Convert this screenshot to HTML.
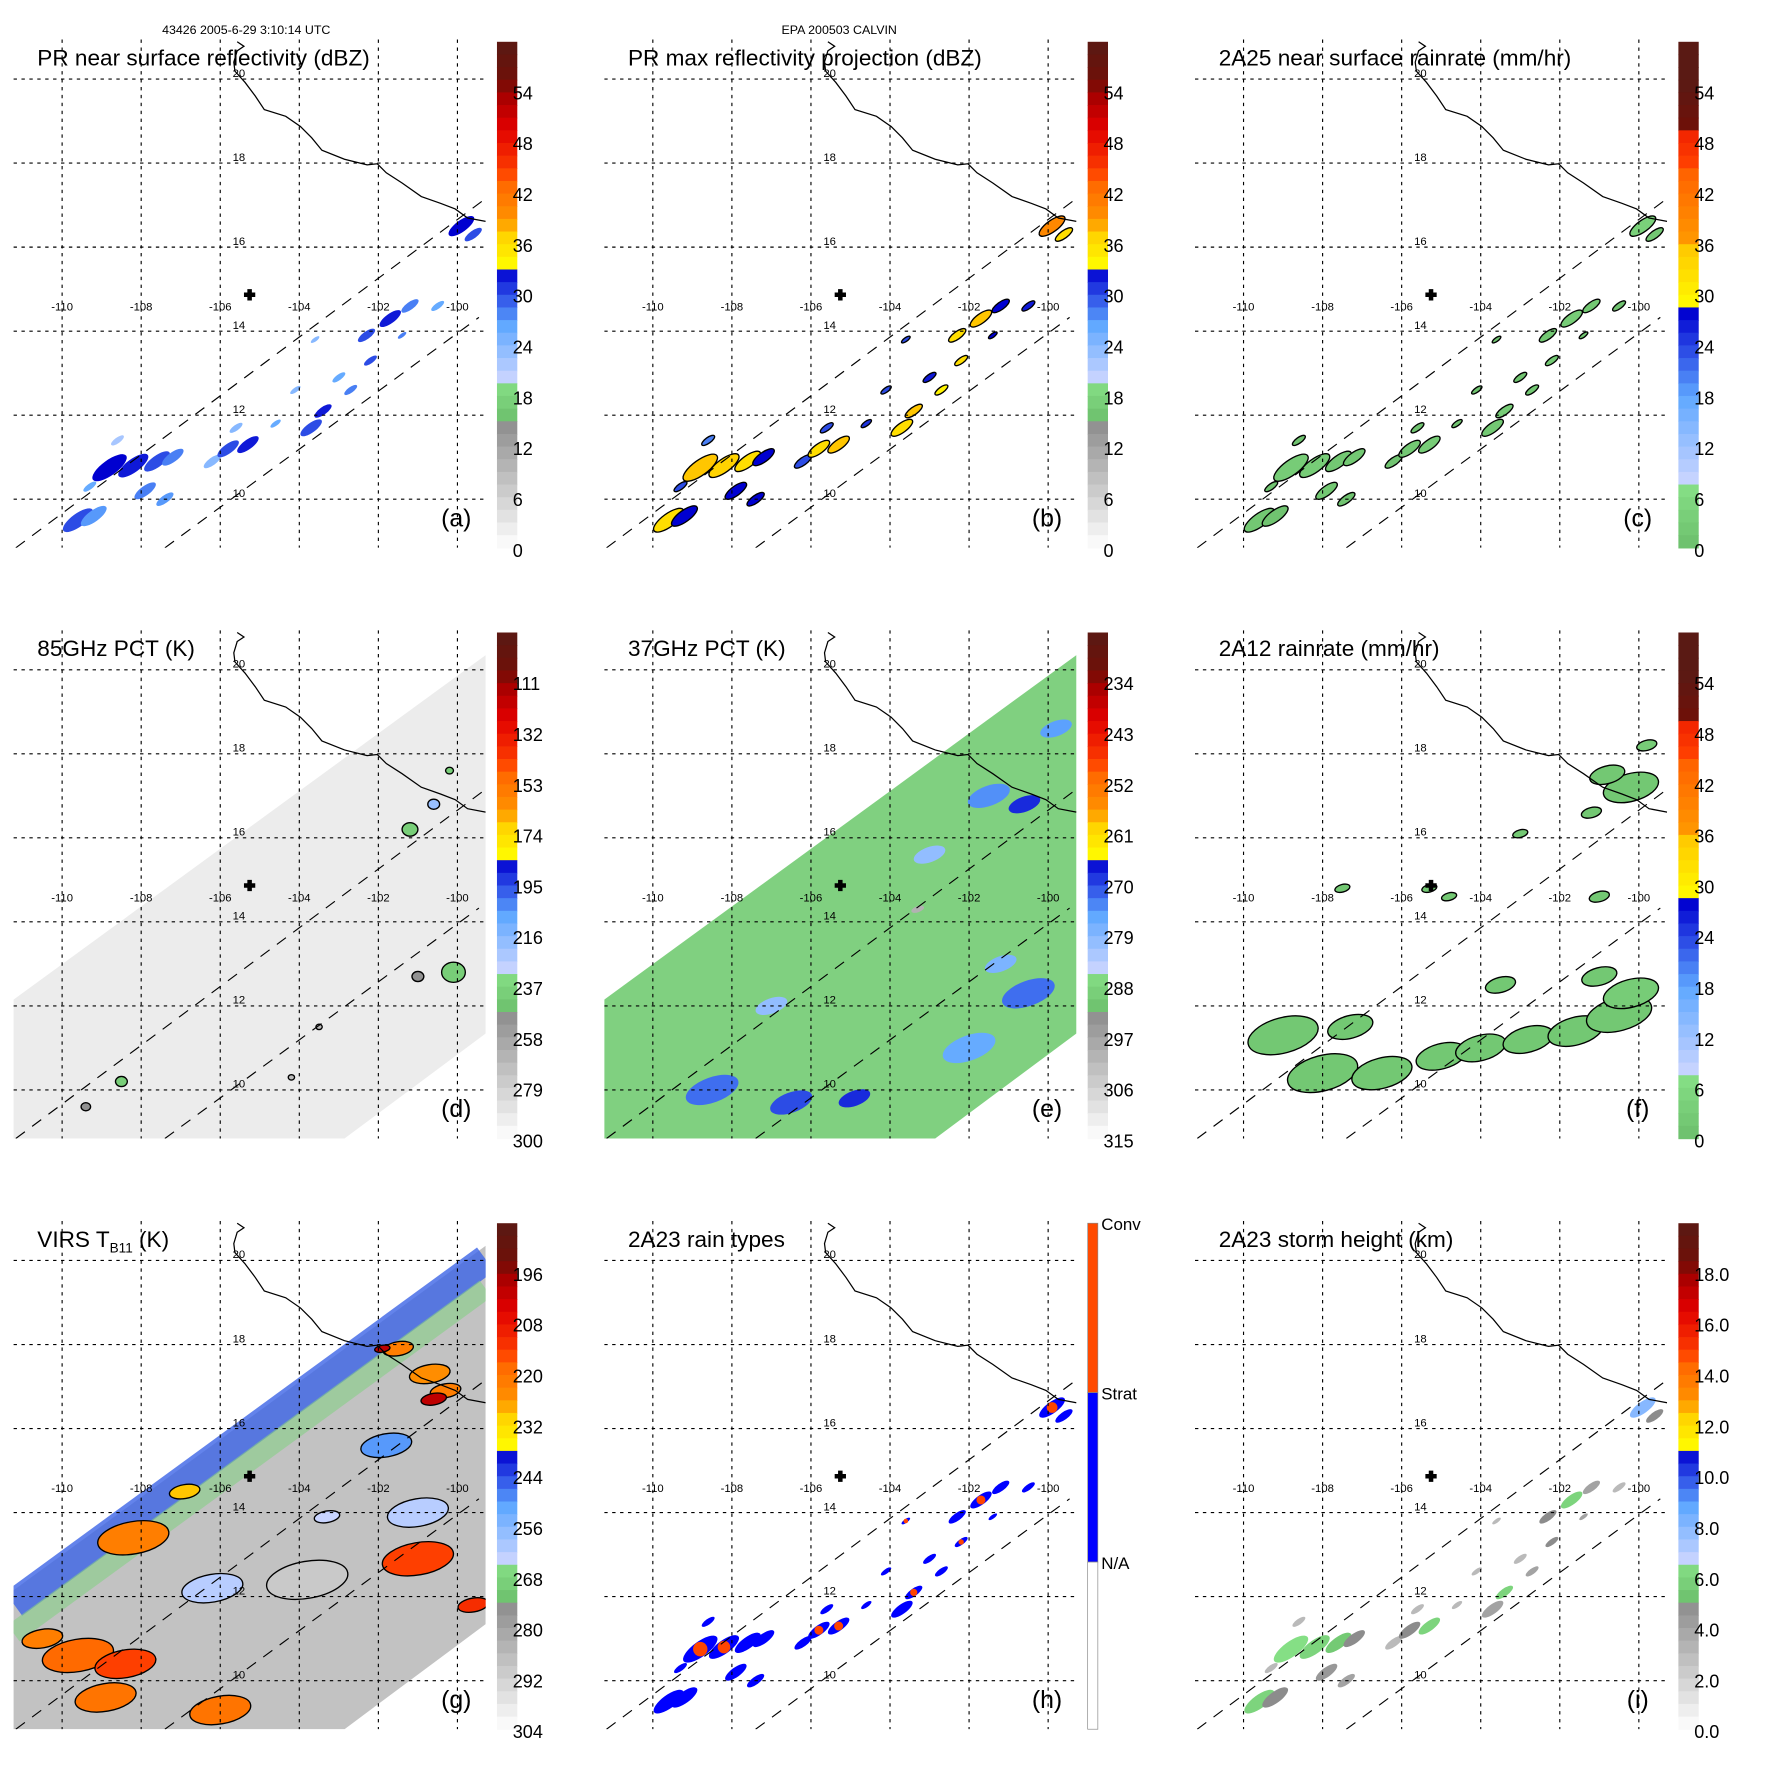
<!DOCTYPE html>
<html><head><meta charset="utf-8"><style>
html,body{margin:0;padding:0;background:#fff;}
svg{display:block;font-family:"Liberation Sans",sans-serif;}
</style></head><body>
<svg id="chart" xmlns="http://www.w3.org/2000/svg" width="1771" height="1771" viewBox="0 0 1568 1568">
<defs></defs>
<text x="218" y="30" font-size="11" text-anchor="middle">43426 2005-6-29 3:10:14 UTC</text>
<text x="743" y="30" font-size="11" text-anchor="middle">EPA 200503 CALVIN</text>
</svg>
<script>
// ---- PR swath cells (shared locations) ----
const prLon = [-109.6,-109.2,-108.8,-108.2,-107.6,-107.2,-107.9,-107.4,-106.2,-105.8,-105.3,-105.6,-104.6,-103.7,-103.4,-104.1,-103.0,-102.7,-102.2,-102.3,-101.7,-101.2,-100.5,-99.9,-99.6,-103.6,-101.4,-108.6,-109.3];
const prLat = [9.5,9.6,10.75,10.8,10.9,11.0,10.2,10.0,10.9,11.2,11.3,11.7,11.8,11.7,12.1,12.6,12.9,12.6,13.3,13.9,14.3,14.6,14.6,16.5,16.3,13.8,13.9,11.4,10.3];
const prSize = [0.35,0.3,0.4,0.35,0.3,0.25,0.25,0.2,0.2,0.25,0.25,0.15,0.12,0.25,0.2,0.12,0.15,0.15,0.15,0.2,0.25,0.2,0.15,0.3,0.2,0.1,0.1,0.15,0.15];
const prRefl = [30,27,33,32,30,28,28,27,24,30,32,24,26,30,32,24,26,28,30,30,32,28,26,33,30,24,28,22,26];
const prMaxRefl = [36,33,38,37,36,33,33,33,30,36,38,30,31,36,38,30,32,34,36,36,38,33,32,40,36,30,33,28,30];
const prRain = [2,1,3,3,2,2,2,1,1,2,3,1,1,2,3,1,1,2,2,2,3,2,1,4,2,1,2,1,1];
const prType = [1,1,2,2,1,1,1,1,1,2,2,1,1,1,2,1,1,1,2,1,2,1,1,2,1,2,1,1,1];
const prHeight = [6,5,6.5,6,5.5,5,4.5,4,3,5,6,3,3,4,6,3,3,4,5,5,6,4,3,8,5,3,4,3,3];
// ---- 85GHz PCT cold spots ----
const p85Lon = [-101.2,-100.6,-100.2,-100.1,-101.0,-108.5,-109.4,-103.5,-104.2];
const p85Lat = [16.2,16.8,17.6,12.8,12.7,10.2,9.6,11.5,10.3];
const p85Size = [0.2,0.15,0.1,0.3,0.15,0.15,0.12,0.08,0.08];
const p85Val = [240,220,240,240,250,240,250,270,270];
// ---- 37GHz PCT patches ----
const p37Lon = [-108.5,-106.5,-104.9,-102.0,-100.5,-101.2,-101.5,-100.6,-99.8,-107.0,-103.0,-103.3];
const p37Lat = [10.0,9.7,9.8,11.0,12.3,13.0,17.0,16.8,18.6,12.0,15.6,14.3];
const p37Size = [0.5,0.4,0.3,0.5,0.5,0.3,0.4,0.3,0.3,0.3,0.3,0.12];
const p37Val = [272,270,268,276,272,278,274,268,275,280,280,300];
// ---- 2A12 rain patches ----
const r12Lon = [-109.0,-107.3,-108.0,-106.5,-105.0,-104.0,-102.8,-101.6,-100.5,-100.2,-101.0,-103.5,-104.8,-105.3,-107.5,-101.0,-100.2,-100.8,-99.8,-103.0,-101.2];
const r12Lat = [11.3,11.5,10.4,10.4,10.8,11.0,11.2,11.4,11.8,12.3,12.7,12.5,14.6,14.8,14.8,14.6,17.2,17.5,18.2,16.1,16.6];
const r12Size = [0.7,0.45,0.7,0.6,0.5,0.5,0.5,0.55,0.65,0.55,0.35,0.3,0.15,0.15,0.15,0.2,0.55,0.35,0.2,0.15,0.2];
const r12Val = [2,2,2,2,2,2,2,2,2,3,2,2,2,2,2,2,2,2,3,2,2];
// ---- VIRS Tb11 patches ----
const virsLon = [-108.2,-106.2,-103.8,-101.0,-101.8,-109.6,-108.9,-108.4,-106.0,-110.5,-101.0,-99.6,-101.5,-100.7,-100.3,-101.9,-100.6,-106.9,-103.3];
const virsLat = [13.4,12.2,12.4,14.0,15.6,10.6,9.6,10.4,9.3,11.0,12.9,11.8,17.9,17.3,16.9,17.9,16.7,14.5,13.9];
const virsSize = [0.7,0.6,0.8,0.6,0.5,0.7,0.6,0.6,0.6,0.4,0.7,0.3,0.3,0.4,0.3,0.15,0.25,0.3,0.25];
const virsVal = [222,262,290,262,250,218,220,215,220,222,215,212,222,225,222,200,200,228,264];
// ---- colorbar tick labels ----
const ticksA = ['54','48','42','36','30','24','18','12','6','0'];
const ticksD = ['111','132','153','174','195','216','237','258','279','300'];
const ticksE = ['234','243','252','261','270','279','288','297','306','315'];
const ticksG = ['196','208','220','232','244','256','268','280','292','304'];
const ticksI = ['18.0','16.0','14.0','12.0','10.0','8.0','6.0','4.0','2.0','0.0'];
const lonTicks = [-110,-108,-106,-104,-102,-100];
const latTicks = [20,18,16,14,12,10];

const NS = 'http://www.w3.org/2000/svg';
const svg = document.getElementById('chart');
function mk(tag, attrs, parent){
  const e = document.createElementNS(NS, tag);
  for (const k in attrs) e.setAttribute(k, attrs[k]);
  (parent || svg).appendChild(e);
  return e;
}
const stops = [[0,'#ffffff'],[0.25,'#8c8c8c'],[0.2501,'#6cbf6c'],[0.333,'#88e288'],[0.3331,'#c8d4ff'],[0.44,'#60a8ff'],[0.55,'#0000d0'],[0.5501,'#ffff00'],[0.633,'#ffc800'],[0.64,'#ff9800'],[0.733,'#ff6000'],[0.74,'#ff4000'],[0.83,'#e00000'],[0.9,'#a00000'],[0.92,'#701008'],[1,'#5a1a14']];
function hx(c){return [parseInt(c.substr(1,2),16),parseInt(c.substr(3,2),16),parseInt(c.substr(5,2),16)];}
function cmap(t){
  t = Math.max(0, Math.min(1, t));
  for (let i = 0; i < stops.length - 1; i++) {
    const a = stops[i], b = stops[i+1];
    if (t >= a[0] && t <= b[0]) {
      const f = (t - a[0]) / ((b[0] - a[0]) || 1), ca = hx(a[1]), cb = hx(b[1]);
      return 'rgb(' + ca.map((v,j)=>Math.round(v + (cb[j]-v)*f)).join(',') + ')';
    }
  }
  return stops[stops.length-1][1];
}
function shiftT(f){
  const v = f * 60;
  if (v < 8) return 0.2502 + 0.0828 * v / 8;
  return Math.min(1, 0.3332 + 0.01085 * (v - 8) * (v > 50 ? 1.3 : 1));
}
const W = 418, H = 450;
function panel(ox, oy, cfg) {
  const X = lon => ox + 55 + (lon + 110) * 35;
  const Y = lat => oy + 70 + (20 - lat) * 37.2;
  const frac = v => cfg.rev ? (cfg.max - v) / (cfg.max - cfg.min) : (v - cfg.min) / (cfg.max - cfg.min);
  const tcol = f => cmap(cfg.shift ? shiftT(f) : f);
  const cp = mk('clipPath', {id: 'clip' + cfg.letter}, svg.querySelector('defs'));
  mk('rect', {x: ox + 12, y: oy + 35, width: W, height: H}, cp);
  const g = mk('g', {'clip-path': 'url(#clip' + cfg.letter + ')'});
  
  
  const swPts = [[12,362],[430,57],[430,392],[305,485],[12,485]].map(p => (ox+p[0]) + ',' + (oy+p[1])).join(' ');
  const sg = mk('g', {}, g);
  
  
  if (cfg.swath) {
    const sw = mk('polygon', {points: swPts, fill: cfg.swath}, sg);
    
    
    if (cfg.edge) {
      const ed = mk('line', {x1: ox+12, y1: oy+374, x2: ox+430, y2: oy+69, stroke: cfg.edge, 'stroke-width': 26, 'stroke-opacity': 0.8}, sg);
      
      
      const ed2 = mk('line', {x1: ox+12, y1: oy+400, x2: ox+430, y2: oy+95, stroke: '#86cf86', 'stroke-width': 18, 'stroke-opacity': 0.6}, sg);
      
      
    }
  }
  const L = cfg.lon, La = cfg.lat, S = cfg.size, V = cfg.val;
  for (let i = 0; i < L.length; i++) {
    const cx = X(L[i]), cy = Y(La[i]);
    const rx = S[i] * 35 * (cfg.rxScale || 1.3), ry = S[i] * 37.2 * (cfg.ryScale || 0.45);
    const fill = cfg.colorOf ? cfg.colorOf(V[i]) : tcol(frac(V[i]));
    const e = mk('ellipse', {cx: cx, cy: cy, rx: rx, ry: ry, fill: fill, transform: 'rotate(' + (cfg.rot === undefined ? -36 : cfg.rot) + ' ' + cx + ' ' + cy + ')', stroke: cfg.stroke || 'none', 'stroke-width': 1.2}, sg);
    
    
    if (cfg.dot && cfg.dot(i)) {
      const d = mk('circle', {cx: cx, cy: cy, r: Math.max(2, rx * 0.35), fill: cfg.dot(i)}, sg);
      
      
    }
  }
  latTicks.forEach(lat => {
    const l = mk('line', {x1: ox+12, x2: ox+430, y1: Y(lat), y2: Y(lat), stroke: '#000', 'stroke-width': 1, 'stroke-dasharray': '3 4'}, g);
    
    
    const t = mk('text', {x: ox+206, y: Y(lat) - 2, 'font-size': 10}, g);
    t.textContent = String(lat);
    
    
  });
  lonTicks.forEach(lon => {
    const l = mk('line', {x1: X(lon), x2: X(lon), y1: oy+35, y2: oy+485, stroke: '#000', 'stroke-width': 1, 'stroke-dasharray': '3 4'}, g);
    
    
    const t = mk('text', {x: X(lon), y: oy+275, 'font-size': 10, 'text-anchor': 'middle'}, g);
    t.textContent = String(lon);
    
    
  });
  const coast = [[210,37],[216,41],[210,45],[207,55],[208,63],[217,73],[226,85],[234,97],[253,103],[266,112],[276,122],[285,133],[305,141],[325,146],[334,145],[342,153],[356,162],[373,174],[390,180],[403,185],[414,193],[430,196]];
  const cl = mk('polyline', {points: coast.map(p => (ox+p[0]) + ',' + (oy+p[1])).join(' '), fill: 'none', stroke: '#000', 'stroke-width': 1.1}, g);
  
  
  [[14,485,427,178],[146,485,424,281]].forEach(s => {
    const l = mk('line', {x1: ox+s[0], y1: oy+s[1], x2: ox+s[2], y2: oy+s[3], stroke: '#000', 'stroke-width': 1, 'stroke-dasharray': '10 8'}, g);
    
    
  });
  const cr = mk('path', {d: 'M' + (ox+216) + ' ' + (oy+259) + 'h10v4h-10zM' + (ox+219) + ' ' + (oy+256) + 'h4v10h-4z', fill: '#000'}, g);
  
  
  const tt = mk('text', {x: ox + 33, y: oy + 58, 'font-size': 20});
  
  
  if (cfg.titleHTML) { tt.innerHTML = cfg.titleHTML; } else { tt.textContent = cfg.title; }
  const lt = mk('text', {x: ox + 404, y: oy + 466, 'font-size': 22, 'text-anchor': 'middle'});
  lt.textContent = '(' + cfg.letter + ')';
  
  
  const cb = mk('g', {});
  
  
  const bx = ox + 440, by = oy + 37, bh = 448;
  if (cfg.discrete) {
    [['#ff4a00',0,150],['#0000ff',150,300],['#ffffff',300,448]].forEach(s => {
      const r = mk('rect', {x: bx, y: by + s[1], width: 9, height: s[2]-s[1], fill: s[0], stroke: '#888', 'stroke-width': 0.6}, cb);
      
      
    });
    [['Conv',0],['Strat',150],['N/A',300]].forEach(s => {
      const t = mk('text', {x: bx + 12, y: by + s[1] + 6, 'font-size': 15}, cb);
      t.textContent = s[0];
      
      
    });
  } else {
    const n = 40;
    for (let k = 0; k < n; k++) {
      const f = 1 - (k + 0.5) / n;
      const r = mk('rect', {x: bx, y: by + k * bh / n, width: 18, height: bh / n + 0.6, fill: tcol(f)}, cb);
      
      
    }
    cfg.ticks.forEach((lab, k) => {
      const y = by + (k + 1) * 45;
      const t = mk('text', {x: bx + 14, y: y + 6, 'font-size': 16}, cb);
      t.textContent = lab;
      
      
    });
  }
}
const R = 523;
panel(0, 0, {letter:'a', title:'PR near surface reflectivity (dBZ)', ticks: ticksA, min:0, max:60, lon: prLon, lat: prLat, size: prSize, val: prRefl});
panel(R, 0, {letter:'b', title:'PR max reflectivity projection (dBZ)', ticks: ticksA, min:0, max:60, lon: prLon, lat: prLat, size: prSize, val: prMaxRefl, stroke:'#000'});
panel(2*R, 0, {letter:'c', title:'2A25 near surface rainrate (mm/hr)', ticks: ticksA, min:0, max:60, shift:true, lon: prLon, lat: prLat, size: prSize, val: prRain, stroke:'#000'});
panel(0, R, {letter:'d', title:'85GHz PCT (K)', ticks: ticksD, min:90, max:300, rev:true, swath:'#ececec', lon: p85Lon, lat: p85Lat, size: p85Size, val: p85Val, stroke:'#000', rot:0, rxScale:1, ryScale:0.8});
panel(R, R, {letter:'e', title:'37GHz PCT (K)', ticks: ticksE, min:225, max:315, rev:true, swath:'#80d080', lon: p37Lon, lat: p37Lat, size: p37Size, val: p37Val, rot:-20, rxScale:1.4, ryScale:0.6});
panel(2*R, R, {letter:'f', title:'2A12 rainrate (mm/hr)', ticks: ticksA, min:0, max:60, shift:true, lon: r12Lon, lat: r12Lat, size: r12Size, val: r12Val, stroke:'#000', rot:-15, rxScale:1.3, ryScale:0.6});
panel(0, 2*R, {letter:'g', titleHTML:'VIRS T<tspan font-size="12" dy="5">B11</tspan><tspan dy="-5"> (K)</tspan>', ticks: ticksG, min:184, max:304, rev:true, swath:'#c2c2c2', edge:'#3c64e6', lon: virsLon, lat: virsLat, size: virsSize, val: virsVal, stroke:'#000', rot:-10, rxScale:1.3, ryScale:0.55});
panel(R, 2*R, {letter:'h', title:'2A23 rain types', discrete:true, lon: prLon, lat: prLat, size: prSize, val: prType, colorOf: v => '#0000ff', dot: i => prType[i] === 2 ? '#ff4500' : null});
panel(2*R, 2*R, {letter:'i', title:'2A23 storm height (km)', ticks: ticksI, min:0, max:20, lon: prLon, lat: prLat, size: prSize, val: prHeight});
</script>
</body></html>
